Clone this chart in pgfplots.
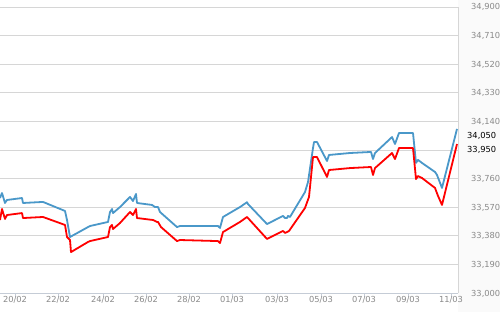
\documentclass[border=0pt]{standalone}
\usepackage{pgfplots}
\pgfplotsset{compat=1.18}
\usepackage{fontspec}
\setmainfont{DejaVu Sans}
\definecolor{bluel}{HTML}{4A98C9}
\definecolor{redl}{HTML}{FF0000}
\definecolor{gridc}{HTML}{D6D6D6}
\definecolor{axc}{HTML}{C5CCD6}
\definecolor{labc}{HTML}{8A8A8A}
\begin{document}
\begin{tikzpicture}
\useasboundingbox (0,0) rectangle (500bp,312bp);
\fill[white] (0,0) rectangle (500bp,312bp);
\fill[black!2] (458bp,0) rectangle (500bp,312bp);
\begin{axis}[
  at={(0,19bp)}, anchor=south west,
  scale only axis, width=458bp, height=286bp,
  xmin=0, xmax=458, ymin=33000, ymax=34900,
  scaled x ticks=false, scaled y ticks=false,
  axis x line*=bottom, axis y line*=right,
  x axis line style={draw=axc, line width=0.8bp, -},
  y axis line style={draw=gridc, line width=0.8bp, -},
  ytick={33000,33190,33380,33570,33760,33950,34140,34330,34520,34710,34900},
  yticklabels={{33,000},{33,190},{33,380},{33,570},{33,760},{},{34,140},{34,330},{34,520},{34,710},{34,900}},
  ymajorgrids, grid style={draw=gridc, line width=0.8bp},
  ytick style={draw=none},
  yticklabel style={font=\fontsize{8.3bp}{10bp}\selectfont, color=labc, anchor=base west, inner sep=0pt, xshift=9bp, yshift=-3bp},
  xtick={15,58,103,146,189,232,277,321,364,408,451},
  xticklabels={20/02,22/02,24/02,26/02,28/02,01/03,03/03,05/03,07/03,09/03,11/03},
  xtick style={draw=axc, line width=0.6bp},
  tick align=outside, major tick length=4bp,
  xticklabel style={font=\fontsize{8.3bp}{10bp}\selectfont, color=labc, anchor=north, inner sep=0pt, yshift=1bp},
  clip=false,
]
\addplot[draw=bluel, line width=1.8bp, line join=round] coordinates {
(0,33631) (2,33664) (5,33598) (7,33618) (22,33631) (23,33598) (43,33605) (65,33545) (67,33485) (70,33372)
(88,33438) (90,33445) (108,33472) (110,33538) (112,33558) (113,33531) (120,33571) (130,33638) (133,33611)
(136,33658) (137,33598) (152,33585) (155,33571) (158,33571) (160,33538) (177,33438) (180,33445) (218,33445)
(220,33432) (223,33505) (240,33571) (247,33603) (248,33591) (267,33458) (283,33512) (285,33498) (287,33498)
(288,33512) (290,33505) (305,33671) (308,33737) (313,33963) (314,34003) (317,34003) (327,33877) (329,33917)
(350,33930) (371,33937) (373,33890) (375,33930) (392,34036) (395,33990) (399,34063) (413,34063) (416,33864)
(418,33884) (422,33864) (435,33804) (437,33784) (442,33698) (457,34090)
};
\addplot[draw=redl, line width=1.8bp, line join=round] coordinates {
(0,33485) (2,33558) (5,33492) (7,33518) (22,33531) (23,33498) (43,33505) (65,33452) (67,33372) (70,33352)
(71,33272) (88,33339) (90,33345) (108,33372) (110,33438) (112,33452) (113,33425) (120,33465) (130,33538)
(133,33518) (136,33558) (137,33498) (153,33485) (157,33472) (158,33472) (161,33438) (177,33345) (180,33352)
(218,33345) (220,33332) (223,33405) (240,33472) (247,33505) (267,33359) (283,33412) (285,33399) (287,33405)
(289,33412) (305,33565) (309,33638) (313,33903) (317,33903) (327,33771) (329,33817) (350,33830) (371,33837)
(373,33784) (375,33830) (392,33930) (395,33890) (399,33963) (413,33963) (416,33757) (418,33777) (422,33764)
(435,33698) (438,33645) (442,33585) (457,33990)
};
\node[anchor=west, inner sep=0pt, font=\fontsize{8.3bp}{10bp}\selectfont, text=black] at (axis cs:467,34043) {34,050};
\node[anchor=west, inner sep=0pt, font=\fontsize{8.3bp}{10bp}\selectfont, text=black] at (axis cs:467,33950) {33,950};
\end{axis}
\end{tikzpicture}
\end{document}
